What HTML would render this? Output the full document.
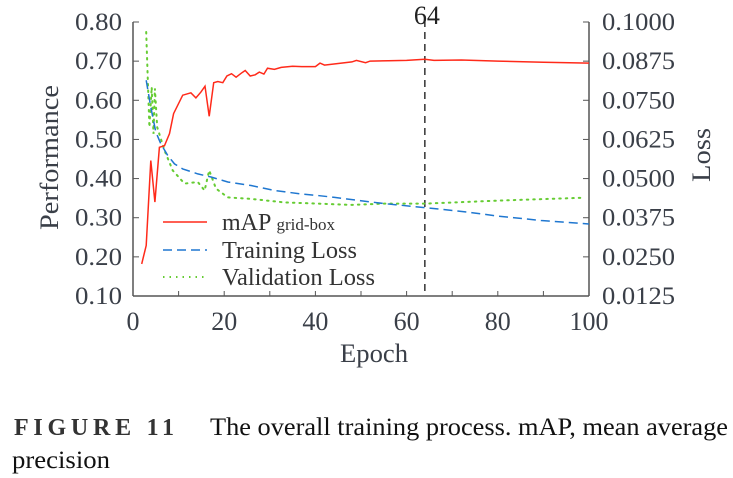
<!DOCTYPE html>
<html><head><meta charset="utf-8"><style>
body{margin:0;background:#fff;}
svg{display:block;font-family:"Liberation Serif",serif;}
</style></head><body>
<svg id="chart" width="733" height="478" viewBox="0 0 733 478" xmlns="http://www.w3.org/2000/svg">
<g id="axes"></g>
<g id="series"></g>
<g>
  <line x1="163" y1="222" x2="207" y2="222" stroke="#ff2a1a" stroke-width="1.5"/>
  <text x="222" y="230" font-size="24" fill="#333">mAP <tspan font-size="17">grid-box</tspan></text>
  <line x1="163" y1="250" x2="207" y2="250" stroke="#1f77d0" stroke-width="1.5" stroke-dasharray="9,5"/>
  <text x="222" y="258" font-size="24" fill="#333" textLength="135" lengthAdjust="spacingAndGlyphs">Training Loss</text>
  <line x1="163" y1="277" x2="207" y2="277" stroke="#66cc33" stroke-width="2" stroke-dasharray="1.5,5"/>
  <text x="222" y="285" font-size="24" fill="#333" textLength="153" lengthAdjust="spacingAndGlyphs">Validation Loss</text>
</g>
<text x="14" y="435" font-size="24" font-weight="bold" fill="#333" textLength="160" lengthAdjust="spacing">FIGURE 11</text>
<text x="210" y="435" font-size="25" fill="#111" textLength="518" lengthAdjust="spacingAndGlyphs">The overall training process. mAP, mean average</text>
<text x="12" y="468" font-size="25" fill="#111" textLength="98" lengthAdjust="spacingAndGlyphs">precision</text>
</svg>
<script>
const xTicks=[0,20,40,60,80,100];
const leftTicks=[0.10,0.20,0.30,0.40,0.50,0.60,0.70,0.80];
const rightTicks=[0.0125,0.0250,0.0375,0.0500,0.0625,0.0750,0.0875,0.1000];
const bestEpoch=64;
const mapEpochs=[1.9,2.9,3.9,4.8,5.8,6.9,8.0,8.9,10.9,12.7,13.8,14.9,15.8,16.7,17.7,18.6,19.7,20.6,21.6,22.6,23.7,24.6,25.7,26.8,27.7,28.7,29.5,31,32.5,35,37,40,41,42,45,48,49,51,52,56,60,64,66,72,80,90,100];
const mapValues=[0.182,0.229,0.446,0.34,0.48,0.484,0.515,0.566,0.613,0.619,0.606,0.621,0.636,0.559,0.645,0.648,0.645,0.662,0.668,0.659,0.669,0.676,0.662,0.665,0.672,0.667,0.682,0.679,0.684,0.687,0.686,0.686,0.695,0.690,0.694,0.698,0.702,0.696,0.700,0.701,0.702,0.705,0.702,0.703,0.700,0.697,0.695];
const trainEpochs=[2.9,3.9,5.0,6.1,7.6,9.1,10.9,14.2,17.1,20.8,25.9,31.0,36.8,40.5,44.2,48.5,55.1,64.2,73.4,80,83.6,89.5,94.5,100];
const trainValues=[0.0814,0.0728,0.0649,0.0611,0.0574,0.0547,0.0531,0.0515,0.0505,0.0489,0.0478,0.0462,0.0451,0.0446,0.044,0.0432,0.042,0.0407,0.0393,0.038,0.0375,0.0366,0.0361,0.0355];
const valEpochs=[2.9,3.6,4.1,4.5,4.8,5.3,6.9,8.7,11.3,14.2,15.7,16.7,18.2,20.8,25.9,33.2,40.5,47.8,55.1,64.2,80.7,99];
const valValues=[0.0968,0.0664,0.0792,0.0643,0.0788,0.0664,0.059,0.0526,0.0484,0.0489,0.0462,0.0526,0.0468,0.044,0.0435,0.0424,0.042,0.0416,0.042,0.042,0.043,0.0439];

const X0=133,X1=589,YT=22,YB=296;
const sx=v=>X0+(v-0)/(100-0)*(X1-X0);
const syL=v=>YB-(v-0.10)/(0.80-0.10)*(YB-YT);
const syR=v=>YB-(v-0.0125)/(0.1-0.0125)*(YB-YT);
const NS='http://www.w3.org/2000/svg';
function mk(tag,attrs,parent,txt){const e=document.createElementNS(NS,tag);for(const k in attrs)e.setAttribute(k,attrs[k]);if(txt!==undefined)e.textContent=txt;parent.appendChild(e);return e;}
const axes=document.getElementById('axes'),ser=document.getElementById('series');
const ac='#555',tc='#3a3f48';
let e;
e=mk('line',{x1:X0,y1:YB,x2:X1,y2:YB,stroke:ac,'stroke-width':1.5},axes);


e=mk('line',{x1:X0,y1:YT,x2:X0,y2:YB,stroke:ac,'stroke-width':1.5},axes);


e=mk('line',{x1:X1,y1:YT,x2:X1,y2:YB,stroke:ac,'stroke-width':1.5},axes);


for(let t=0;t<=100;t+=10){
  e=mk('line',{x1:sx(t),y1:YB,x2:sx(t),y2:YB-5,stroke:ac,'stroke-width':1},axes);
  
  
}
xTicks.forEach(t=>{
  const s=String(t);
  e=mk('text',{x:sx(t)-s.length*6.5,y:YB+34,'font-size':26,fill:tc,textLength:s.length*13,lengthAdjust:'spacingAndGlyphs'},axes,s);
  
  
});
leftTicks.forEach(t=>{
  const y=syL(t);
  e=mk('line',{x1:X0,y1:y,x2:X0+6,y2:y,stroke:ac,'stroke-width':1},axes);
  
  
  e=mk('text',{x:75,y:y+8,'font-size':25,fill:tc,textLength:47,lengthAdjust:'spacingAndGlyphs'},axes,t.toFixed(2));
  
  
});
rightTicks.forEach(t=>{
  const y=syR(t);
  e=mk('line',{x1:X1,y1:y,x2:X1-6,y2:y,stroke:ac,'stroke-width':1},axes);
  
  
  e=mk('text',{x:602,y:y+8,'font-size':25,fill:tc,textLength:73,lengthAdjust:'spacingAndGlyphs'},axes,t.toFixed(4));
  
  
});
e=mk('text',{x:340,y:362,'font-size':26,fill:tc,textLength:68,lengthAdjust:'spacingAndGlyphs'},axes,'Epoch');


e=mk('text',{x:-230,y:58,'font-size':26,fill:tc,textLength:145,lengthAdjust:'spacingAndGlyphs',transform:'rotate(-90)'},axes,'Performance');


e=mk('text',{x:-182,y:710,'font-size':26,fill:tc,textLength:54,lengthAdjust:'spacingAndGlyphs',transform:'rotate(-90)'},axes,'Loss');


e=mk('line',{x1:sx(bestEpoch),y1:YT-2,x2:sx(bestEpoch),y2:YB,stroke:'#333','stroke-width':1.5,'stroke-dasharray':'7,5'},ser);


e=mk('text',{x:sx(bestEpoch)+2,y:24,'font-size':26,fill:'#222','text-anchor':'middle'},ser,String(bestEpoch));


function pts(xs,ys,f){return xs.map((x,i)=>sx(x).toFixed(1)+','+f(ys[i]).toFixed(1)).join(' ');}
e=mk('polyline',{points:pts(valEpochs,valValues,syR),fill:'none',stroke:'#66cc33','stroke-width':2,'stroke-dasharray':'1.5,5','stroke-linecap':'round'},ser);


e=mk('polyline',{points:pts(trainEpochs,trainValues,syR),fill:'none',stroke:'#1f77d0','stroke-width':1.5,'stroke-dasharray':'9,5'},ser);


e=mk('polyline',{points:pts(mapEpochs,mapValues,syL),fill:'none',stroke:'#ff2a1a','stroke-width':1.5},ser);


</script>
</body></html>
